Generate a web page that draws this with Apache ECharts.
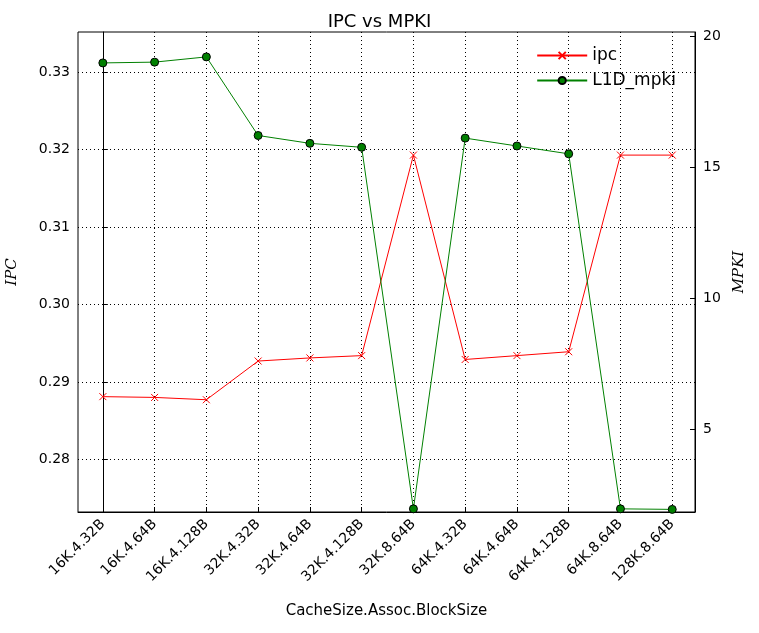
<!DOCTYPE html>
<html>
<head>
<meta charset="utf-8">
<script src="https://cdn.jsdelivr.net/npm/echarts@6/dist/echarts.min.js"></script>
<style>html,body{margin:0;padding:0;background:#fff}</style>
</head>
<body>
<div id="chart" style="width:759px;height:633px"></div>
<script>
var categories = ['16K.4.32B','16K.4.64B','16K.4.128B','32K.4.32B','32K.4.64B','32K.4.128B','32K.8.64B','64K.4.32B','64K.4.64B','64K.4.128B','64K.8.64B','128K.8.64B'];
var ipc = [0.2881, 0.2880, 0.2877, 0.2927, 0.2931, 0.2934, 0.3193, 0.2929, 0.2934, 0.2939, 0.3193, 0.3193];
var mpki = [18.97, 19.0, 19.2, 16.2, 15.9, 15.75, 1.95, 16.1, 15.8, 15.5, 1.95, 1.93];
var ipcTicks = [0.28, 0.29, 0.30, 0.31, 0.32, 0.33];
var mpkiTicks = [5, 10, 15, 20];
var xTicks = categories.map(function (c, i) { return i; });

var font = 'DejaVu Sans';
var chart = echarts.init(document.getElementById('chart'));
chart.setOption({
    animation: false,
    title: { text: 'IPC vs MPKI', left: 'center', top: 8, textStyle: { fontFamily: font, fontSize: 18, fontWeight: 'normal', color: '#000' } },
    legend: {
        right: 78, top: 42, orient: 'vertical', itemGap: 8, itemWidth: 50, itemHeight: 9,
        textStyle: { fontFamily: font, fontSize: 17, color: '#000' },
        data: ['ipc', 'L1D_mpki']
    },
    grid: { left: 78, right: 64, top: 32, bottom: 121, show: true, borderColor: '#000', borderWidth: 1, outerBoundsMode: 'none' },
    xAxis: {
        type: 'value', min: -0.48, max: 11.44,
        name: 'CacheSize.Assoc.BlockSize', nameLocation: 'middle', nameGap: 92,
        nameTextStyle: { fontFamily: font, fontSize: 15, color: '#000' },
        axisLine: { lineStyle: { color: '#000' } },
        axisTick: { inside: true, length: 5, customValues: xTicks, lineStyle: { color: '#000' } },
        axisLabel: { customValues: xTicks, rotate: 45, fontFamily: font, fontSize: 14, color: '#000', margin: 10,
            formatter: function (v) { return categories[Math.round(v)]; } },
        splitLine: { show: true, lineStyle: { color: '#000', type: [1, 3] } }
    },
    yAxis: [{
        type: 'value', min: 0.2732, max: 0.3352,
        name: 'IPC', nameLocation: 'middle', nameGap: 58, nameRotate: 90,
        nameTextStyle: { fontFamily: 'DejaVu Serif', fontStyle: 'italic', fontSize: 15, color: '#000' },
        axisLine: { show: true, lineStyle: { color: '#000' } },
        axisTick: { inside: true, length: 5, customValues: ipcTicks, lineStyle: { color: '#000' } },
        axisLabel: { customValues: ipcTicks, fontFamily: font, fontSize: 14, color: '#000', formatter: function (v) { return v.toFixed(2); } },
        splitLine: { show: true, lineStyle: { color: '#000', type: [1, 3] } }
    }, {
        type: 'value', min: 1.83, max: 20.15,
        name: 'MPKI', nameLocation: 'middle', nameGap: 36, nameRotate: 90,
        nameTextStyle: { fontFamily: 'DejaVu Serif', fontStyle: 'italic', fontSize: 15, color: '#000' },
        axisLine: { show: true, lineStyle: { color: '#000' } },
        axisTick: { inside: true, length: 5, customValues: mpkiTicks, lineStyle: { color: '#000' } },
        axisLabel: { customValues: mpkiTicks, fontFamily: font, fontSize: 14, color: '#000' },
        splitLine: { show: false }
    }],
    series: [{
        name: 'ipc', type: 'line', yAxisIndex: 0,
        data: ipc.map(function (v, i) { return [i, v]; }),
        symbol: 'path://M0,0L10,10M10,0L0,10', symbolSize: 7,
        itemStyle: { color: '#ff0000', borderColor: '#ff0000', borderWidth: 1 },
        lineStyle: { color: '#ff0000', width: 1 }
    }, {
        name: 'L1D_mpki', type: 'line', yAxisIndex: 1,
        data: mpki.map(function (v, i) { return [i, v]; }),
        symbol: 'circle', symbolSize: 8,
        itemStyle: { color: '#008000', borderColor: '#000', borderWidth: 1 },
        lineStyle: { color: '#008000', width: 1 }
    }]
});
</script>
</body>
</html>
